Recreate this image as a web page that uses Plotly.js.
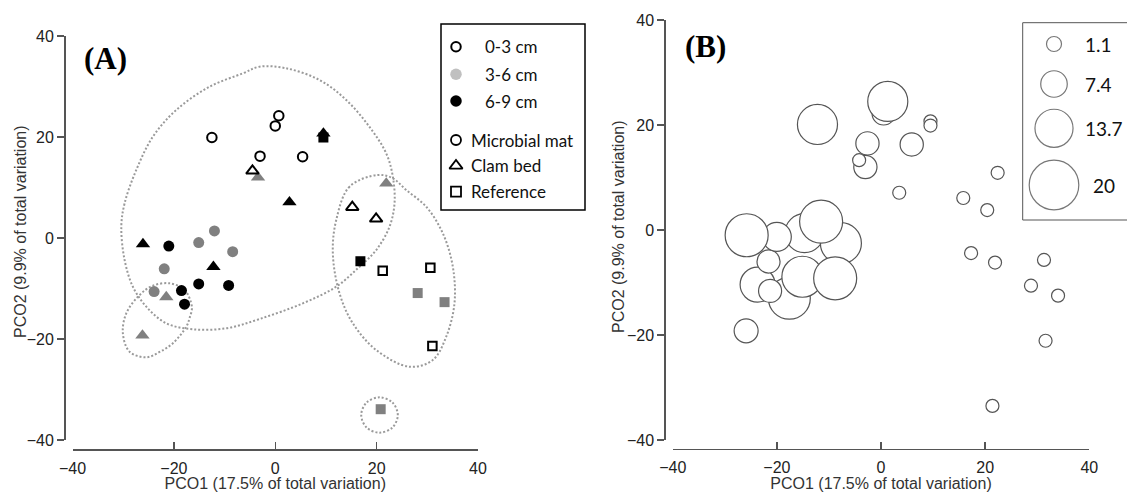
<!DOCTYPE html>
<html><head><meta charset="utf-8">
<script src="https://cdn.plot.ly/plotly-3.0.1.min.js"></script>
<style>html,body{margin:0;padding:0;background:#fff}</style>
</head><body><div id="chart" style="width:1127px;height:492px"></div>
<script>
// ---------- Panel A data (PCO1, PCO2) by habitat and depth ----------
const matOpenX  = [-12.5, 0.7, 0.0, -3.0, 5.4];
const matOpenY  = [19.9, 24.2, 22.2, 16.2, 16.1];
const matGrayX  = [-15.1, -12.0, -8.4, -21.9, -23.9];
const matGrayY  = [-0.9, 1.4, -2.7, -6.1, -10.6];
const matBlackX = [-21.0, -15.1, -9.2, -18.5, -17.9];
const matBlackY = [-1.6, -9.1, -9.4, -10.4, -13.1];
const clamOpenX  = [-4.5, 15.2, 19.9];
const clamOpenY  = [13.3, 6.1, 3.8];
const clamGrayX  = [-3.4, 21.9, -21.5, -26.2];
const clamGrayY  = [12.0, 10.8, -11.7, -19.3];
const clamBlackX = [9.5, 2.8, -26.1, -12.2];
const clamBlackY = [20.7, 7.1, -1.2, -5.7];
const refOpenX  = [21.2, 30.6, 31.0];
const refOpenY  = [-6.5, -5.9, -21.4];
const refGrayX  = [28.1, 33.4, 20.8];
const refGrayY  = [-10.9, -12.7, -33.9];
const refBlackX = [9.5, 16.8];
const refBlackY = [19.9, -4.6];

// ---------- Cluster outlines (dotted) ----------
const bigOutlineX = [-3.10,2.17,8.74,14.00,18.56,21.89,23.20,23.53,22.54,19.92,16.63,12.03,5.44,-3.10,-9.66,-16.25,-21.50,-25.44,-28.09,-29.72,-30.37,-29.72,-27.42,-24.14,-19.53,-12.96,-6.39];
const bigOutlineY = [33.92,33.60,31.29,27.33,22.04,16.77,12.14,6.87,2.24,-2.38,-5.68,-9.64,-12.93,-16.04,-17.88,-18.08,-16.89,-13.60,-9.64,-4.36,2.24,6.87,13.47,20.06,25.35,29.96,32.61];
const leftOutlineX = [-20.85,-17.89,-16.45,-16.90,-17.55,-20.20,-22.82,-25.44,-28.74,-30.06,-29.39,-26.77,-24.14];
const leftOutlineY = [-8.97,-10.30,-13.60,-15.84,-17.56,-20.85,-22.57,-23.62,-22.51,-18.87,-14.91,-11.29,-9.45];
const refOutlineX = [20.24,14.65,12.03,11.36,12.68,15.31,19.92,26.49,31.08,33.73,35.36,35.03,33.06,29.78,25.84,23.20];
const refOutlineY = [12.48,10.16,3.56,-3.03,-10.95,-16.89,-22.18,-25.49,-24.16,-19.54,-12.93,-5.68,0.93,6.20,9.50,11.82];
const ringOutlineX = [20.57,23.12,24.18,23.12,20.57,18.02,16.96,18.02];
const ringOutlineY = [-31.55,-32.58,-35.05,-37.52,-38.55,-37.52,-35.05,-32.58];

// ---------- Panel B bubble data (PCO1, PCO2, bubble value), in drawing order ----------
const bubX = [0.5, 1.3, -12.2, 9.5, 9.5, -2.6, -3.0, -4.2, 5.9, 3.5, 22.4, 15.8, 20.4, 17.3, 21.9, 31.3, 28.8, 34.0, 31.6, 21.4,
              -17.6, -23.7, -21.6, -14.7, -20.0, -25.8, -7.7, -11.5, -15.1, -8.8, -21.3, -25.9];
const bubY = [22.2, 24.5, 20.1, 20.7, 19.9, 16.5, 12.0, 13.3, 16.3, 7.1, 10.9, 6.1, 3.8, -4.4, -6.2, -5.7, -10.6, -12.5, -21.1, -33.5,
              -13.0, -10.4, -6.0, -0.6, -1.3, -1.0, -2.5, 1.6, -8.9, -9.2, -11.6, -19.2];
const bubV = [5.5, 14.8, 14.8, 0, 0, 5.6, 5.6, 0, 5.6, 0, 0, 0, 0, 0, 0, 0, 0, 0, 0, 0,
              15.8, 12.0, 5.5, 14.2, 8.7, 16.4, 15.3, 16.4, 15.3, 16.4, 5.5, 6.0];
const bubbleLegendValues = [1.1, 7.4, 13.7, 20];
const bubbleLegendLabels = ['1.1', '7.4', '13.7', '20'];

// ---------- Legend A ----------
const depthLabels = ['0-3 cm', '3-6 cm', '6-9 cm'];
const habitatLabels = ['Microbial mat', 'Clam bed', 'Reference'];

const axisTitleX = 'PCO1 (17.5% of total variation)';
const axisTitleY = 'PCO2 (9.9% of total variation)';

// ---------- styling ----------
const W = 1127, H = 492;
const GRAY = '#808080', BLACK = '#000000';
const tickFont = {family: 'Liberation Sans, Arial, sans-serif', size: 16, color: '#222'};
const titleFont = {family: 'Liberation Sans, Arial, sans-serif', size: 16, color: '#333'};
const legFont = 'Lato, Calibri, sans-serif';
const bubbleDiameter = v => 13 + 1.83 * v;
const px = v => v / W, py = v => (H - v) / H;

function closed(a) { return a.concat([a[0]]); }

const traces = [];
function outline(xs, ys, xa, ya) {
  traces.push({x: closed(xs), y: closed(ys), xaxis: xa, yaxis: ya, mode: 'lines', hoverinfo: 'skip',
    line: {shape: 'spline', smoothing: 1, color: '#9a9a9a', width: 2, dash: '2px,2px'}});
}
outline(bigOutlineX, bigOutlineY, 'x', 'y');
outline(leftOutlineX, leftOutlineY, 'x', 'y');
outline(refOutlineX, refOutlineY, 'x', 'y');
outline(ringOutlineX, ringOutlineY, 'x', 'y');

function pts(xs, ys, symbol, kind) {
  let size = symbol === 'triangle-up' ? 12.5 : (symbol === 'square' ? 10 : 11);
  let marker;
  if (kind === 'open') {
    marker = {symbol, size: size - 1.5, color: '#fff', opacity: 1, line: {color: BLACK, width: 2}};
  } else {
    marker = {symbol, size, color: kind === 'gray' ? GRAY : BLACK, opacity: 1, line: {width: 0}};
  }
  traces.push({x: xs, y: ys, xaxis: 'x', yaxis: 'y', mode: 'markers', marker, cliponaxis: false});
}
pts(matGrayX, matGrayY, 'circle', 'gray');
pts(clamGrayX, clamGrayY, 'triangle-up', 'gray');
pts(refGrayX, refGrayY, 'square', 'gray');
pts(matBlackX, matBlackY, 'circle', 'black');
pts(refBlackX, refBlackY, 'square', 'black');
pts(clamBlackX, clamBlackY, 'triangle-up', 'black');
pts(matOpenX, matOpenY, 'circle', 'open');
pts(clamOpenX, clamOpenY, 'triangle-up', 'open');
pts(refOpenX, refOpenY, 'square', 'open');

// Panel B bubbles
traces.push({x: bubX, y: bubY, xaxis: 'x2', yaxis: 'y2', mode: 'markers', cliponaxis: false,
  marker: {symbol: 'circle', size: bubV.map(bubbleDiameter), sizemode: 'diameter', color: '#fff',
           line: {color: '#555', width: 1.2}, opacity: 1}});

// ---------- Legends drawn on a page-pixel overlay axis ----------
const legA = {x0: 441, x1: 585, y0: 24, y1: 210, symX: 456, textX1: 483, textX2: 469,
              ys1: [46.7, 74.3, 101], ys2: [140, 165.7, 191.7]};
traces.push({x: legA.ys1.map(() => legA.symX), y: legA.ys1, xaxis: 'x3', yaxis: 'y3', mode: 'markers',
  marker: {symbol: 'circle', size: [9.5, 11.5, 11.5], color: ['#fff', '#c0c0c0', '#000'], opacity: 1,
           line: {color: '#000', width: [2, 0, 0]}}});
traces.push({x: legA.ys2.map(() => legA.symX), y: legA.ys2, xaxis: 'x3', yaxis: 'y3', mode: 'markers',
  marker: {symbol: ['circle-open', 'triangle-up-open', 'square-open'], size: [10, 11.5, 10], color: '#000', opacity: 1,
           line: {color: '#000', width: 1.8}}});

const legB = {x0: 1022.7, x1: 1140, y0: 22.7, y1: 220, symX: 1054, textX: 1083, ys: [44, 84, 128.3, 185]};
traces.push({x: legB.ys.map(() => legB.symX), y: legB.ys, xaxis: 'x3', yaxis: 'y3', mode: 'markers',
  marker: {symbol: 'circle', size: bubbleLegendValues.map(bubbleDiameter), color: '#fff', opacity: 1,
           line: {color: '#777', width: 1.2}}});

const annotations = [];
depthLabels.forEach((t, i) => annotations.push({x: legA.textX1, y: legA.ys1[i], xref: 'x3', yref: 'y3', text: t,
  showarrow: false, xanchor: 'left', yanchor: 'middle', font: {family: legFont, size: 17, color: '#111'}}));
habitatLabels.forEach((t, i) => annotations.push({x: legA.textX2, y: legA.ys2[i], xref: 'x3', yref: 'y3', text: t,
  showarrow: false, xanchor: 'left', yanchor: 'middle', font: {family: legFont, size: 17, color: '#111'}}));
bubbleLegendLabels.forEach((t, i) => annotations.push({x: legB.textX + (i === 3 ? 8 : 0), y: legB.ys[i], xref: 'x3', yref: 'y3', text: t,
  showarrow: false, xanchor: 'left', yanchor: 'middle', font: {family: legFont, size: 19, color: '#111'}}));
annotations.push({x: 82, y: 58, xref: 'x3', yref: 'y3', text: '<b>(A)</b>', showarrow: false, xanchor: 'left', yanchor: 'middle',
  font: {family: 'Liberation Serif, Times New Roman, serif', size: 31, color: '#000'}});
annotations.push({x: 683, y: 46, xref: 'x3', yref: 'y3', text: '<b>(B)</b>', showarrow: false, xanchor: 'left', yanchor: 'middle',
  font: {family: 'Liberation Serif, Times New Roman, serif', size: 31, color: '#000'}});
// y-axis titles (placed precisely beside the tick labels)
annotations.push({x: 20, y: 232, xref: 'x3', yref: 'y3', text: axisTitleY, textangle: -90, showarrow: false,
  xanchor: 'center', yanchor: 'middle', font: titleFont});
annotations.push({x: 618, y: 227, xref: 'x3', yref: 'y3', text: axisTitleY, textangle: -90, showarrow: false,
  xanchor: 'center', yanchor: 'middle', font: titleFont});

const shapes = [
  {type: 'rect', xref: 'x3', yref: 'y3', x0: legA.x0, x1: legA.x1, y0: legA.y0, y1: legA.y1, line: {color: '#000', width: 1.5}, fillcolor: 'rgba(0,0,0,0)'},
  {type: 'rect', xref: 'x3', yref: 'y3', x0: legB.x0, x1: legB.x1, y0: legB.y0, y1: legB.y1, line: {color: '#555', width: 1}, fillcolor: 'rgba(0,0,0,0)'}
];

function xAxis(d0, d1, pos) {
  return {domain: [px(d0), px(d1)], range: [-40, 40], anchor: 'free', position: py(pos), showline: true, linecolor: '#555', linewidth: 1.5,
    ticks: 'inside', ticklen: 7, tickwidth: 1.5, tickcolor: '#555', tickvals: [-40, -20, 0, 20, 40], ticklabelstandoff: 4,
    showgrid: false, zeroline: false, tickfont: tickFont, title: {text: axisTitleX, font: titleFont, standoff: 4}, fixedrange: true};
}
function yAxis(top, bottom, pos) {
  return {domain: [py(bottom), py(top)], range: [-40, 40], anchor: 'free', position: px(pos), showline: true, linecolor: '#555', linewidth: 1.5,
    ticks: 'outside', ticklen: 7, tickwidth: 1.5, tickcolor: '#555', tickvals: [-40, -20, 0, 20, 40],
    showgrid: false, zeroline: false, tickfont: tickFont, fixedrange: true};
}

const layout = {
  width: W, height: H, margin: {l: 0, r: 0, t: 0, b: 0}, showlegend: false,
  paper_bgcolor: '#fff', plot_bgcolor: 'rgba(0,0,0,0)',
  xaxis: xAxis(72.5, 478, 449), yaxis: yAxis(36, 440, 64),
  xaxis2: xAxis(672.7, 1089.3, 448.7), yaxis2: yAxis(20, 440, 664.3),
  xaxis3: {domain: [0, 1], range: [0, W], visible: false, anchor: 'y3', fixedrange: true},
  yaxis3: {domain: [0, 1], range: [H, 0], visible: false, anchor: 'x3', fixedrange: true},
  annotations, shapes
};

Plotly.newPlot('chart', traces, layout, {staticPlot: true, displayModeBar: false});
</script></body></html>
